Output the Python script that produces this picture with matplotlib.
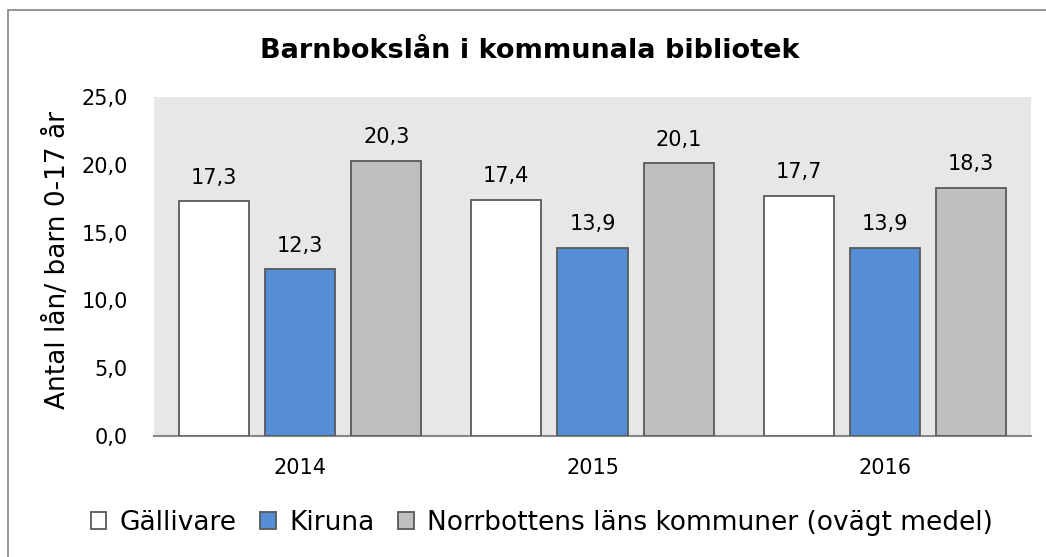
import matplotlib
matplotlib.use("Agg")
import matplotlib.pyplot as plt
import numpy as np
from matplotlib.patches import Rectangle

years = ["2014", "2015", "2016"]
series_names = ["Gällivare", "Kiruna", "Norrbottens läns kommuner (ovägt medel)"]
gallivare = [17.3, 17.4, 17.7]
kiruna = [12.3, 13.9, 13.9]
norrbotten = [20.3, 20.1, 18.3]
colors = ["#ffffff", "#558ed5", "#bfbfbf"]

W, H = 1046, 557
fig = plt.figure(figsize=(W / 100, H / 100), dpi=100)
plt.rcParams['font.family'] = ['DejaVu Sans']

# figure border (only left and top visible in the crop)
fig.patches.append(Rectangle((8 / W, -0.2), 1.3, 1.2 - 10 / H, transform=fig.transFigure,
                             fill=False, edgecolor="#8c8c8c", linewidth=1.3))

ax = fig.add_axes([154 / W, 1 - 436 / H, (1031 - 154) / W, (436 - 97) / H])
ax.set_facecolor("#e7e7e7")

x = np.arange(len(years))
bw = 0.24
pitch = 0.295
for i, (vals, c, name) in enumerate(zip([gallivare, kiruna, norrbotten], colors, series_names)):
    pos = x + (i - 1) * pitch
    ax.bar(pos, vals, width=bw, color=c, edgecolor="#595959", linewidth=1.3, label=name, zorder=3)
    for p, v in zip(pos, vals):
        ax.text(p, v + 1.3, f"{v:.1f}".replace(".", ","), ha="center", va="baseline", fontsize=15)

ax.set_xlim(-0.5, 2.5)
ax.set_ylim(0, 25)
ticks = np.arange(0, 26, 5)
ax.set_yticks(ticks)
ax.set_yticklabels([f"{t:.1f}".replace(".", ",") for t in ticks], fontsize=15)
ax.set_xticks(x)
ax.set_xticklabels(years, fontsize=15)
ax.tick_params(axis="both", length=0)
ax.tick_params(axis="y", pad=19)
ax.tick_params(axis="x", pad=16)
for s in ["top", "right", "left"]:
    ax.spines[s].set_visible(False)
ax.spines["bottom"].set_color("#868686")
ax.spines["bottom"].set_linewidth(1.5)

fig.text(58 / W, 1 - 260 / H, "Antal lån/ barn 0-17 år", rotation=90, ha="center", va="center", fontsize=19)
fig.text(530 / W, 1 - 51 / H, "Barnbokslån i kommunala bibliotek", ha="center", va="center",
         fontsize=19.5, fontweight="bold")

fig.legend(loc="center", bbox_to_anchor=(542 / W, 1 - 523 / H), ncol=3, frameon=False,
           fontsize=19, handlelength=0.6, handleheight=0.6, handletextpad=0.5, columnspacing=0.9)

fig.savefig("out.png", dpi=100)
